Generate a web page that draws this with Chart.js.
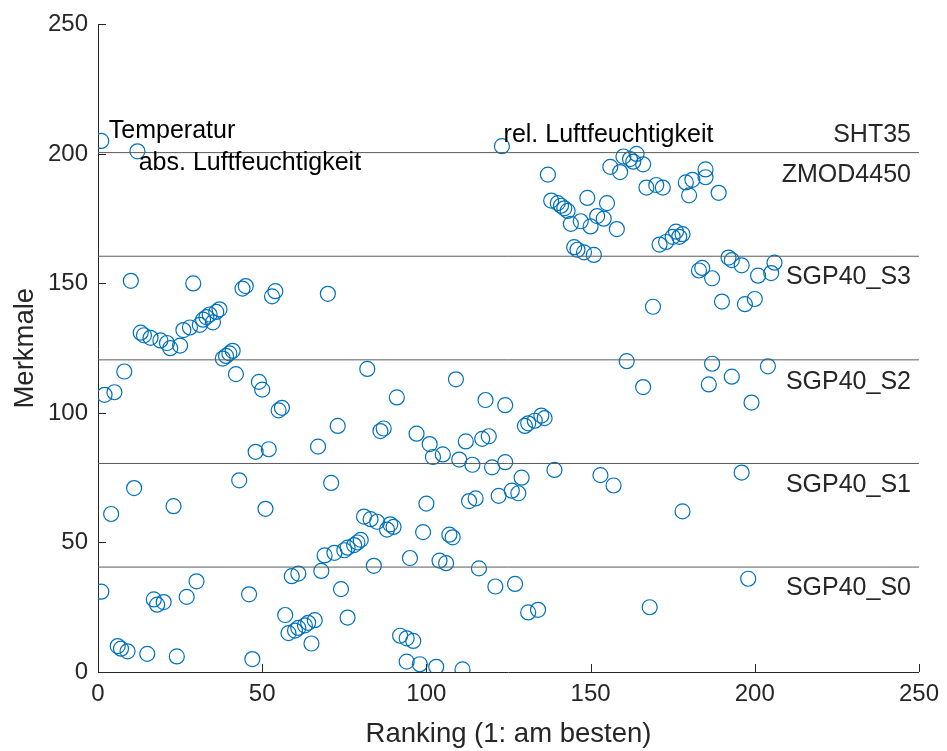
<!DOCTYPE html>
<html>
<head>
<meta charset="utf-8">
<script src="https://cdn.jsdelivr.net/npm/chart.js@4.4.1/dist/chart.umd.min.js"></script>
<style>
  body { margin: 0; background: #fff; }
</style>
</head>
<body>
<canvas id="myChart" width="947" height="751"></canvas>
<script>
// ranking (x) and feature index (y), grouped by sensor
const shtRank = [1, 12, 123];
const shtFeat = [205, 201, 203];

const zmodRank = [137, 156, 159, 160, 162, 163, 164, 166, 138, 140, 141, 142, 143, 144, 147, 149, 150, 152, 154, 155, 158,
  145, 146, 148, 151, 167, 170, 172, 171, 173, 175, 176, 177, 178, 179, 181, 180, 185, 185, 189];
const zmodFeat = [192, 195, 193, 199, 198, 197, 200, 196, 182, 181, 180, 179, 178, 173, 174, 183, 172, 176, 175, 181, 171,
  164, 163, 162, 161, 187, 188, 187, 165, 166, 168, 170, 168, 169, 189, 190, 184, 194, 191, 185];

const s3Rank = [183, 184, 187, 192, 193, 196, 201, 205, 206, 190, 197, 200, 169, 10, 29, 44, 45, 53, 54, 70,
  13, 14, 16, 19, 21, 22, 25, 26, 28, 31, 32, 33, 34, 35, 36, 37, 38, 39, 40, 41];
const s3Feat = [155, 156, 152, 160, 159, 157, 153, 154, 158, 143, 142, 144, 141, 151, 150, 148, 149, 145, 147, 146,
  131, 130, 129, 128, 127, 125, 126, 132, 133, 134, 136, 137, 138, 135, 139, 140, 121, 122, 123, 124];

const s2Rank = [42, 8, 2, 5, 49, 50, 55, 56, 48, 52, 82, 109, 118, 124, 91, 73, 67, 86, 87, 97, 101, 102, 105, 110,
  112, 117, 119, 161, 187, 186, 166, 130, 131, 133, 135, 136, 204, 193, 199, 124];
const s2Feat = [115, 116, 107, 108, 112, 109, 101, 102, 85, 86, 117, 113, 105, 103, 106, 95, 87, 93, 94, 92, 88, 83, 84, 82,
  89, 90, 91, 120, 119, 111, 110, 95, 96, 97, 99, 98, 118, 114, 104, 81];

const s1Rank = [114, 120, 43, 11, 71, 139, 153, 157, 129, 126, 128, 196, 4, 23, 51, 100, 113, 115, 122,
  81, 83, 85, 89, 90, 88, 99, 107, 108, 69, 72, 75, 76, 78, 79, 80, 178];
const s1Feat = [80, 79, 74, 71, 73, 78, 76, 72, 75, 70, 69, 77, 61, 64, 63, 65, 66, 67, 68,
  60, 59, 58, 57, 56, 55, 54, 53, 52, 45, 46, 47, 48, 49, 50, 51, 62];

const s0Rank = [84, 95, 104, 106, 116, 121, 68, 61, 59, 74, 76, 65, 66, 64, 63, 61, 60, 58, 57, 92, 94, 96, 94, 98, 103, 111,
  1, 17, 18, 20, 27, 30, 46, 6, 7, 9, 15, 24, 47, 127, 131, 134, 168, 198];
const s0Feat = [41, 44, 43, 42, 40, 33, 39, 38, 37, 32, 21, 11, 20, 19, 18, 17, 16, 15, 22, 14, 13, 12, 4, 3, 2, 1,
  31, 28, 26, 27, 29, 35, 30, 10, 9, 8, 7, 6, 5, 34, 23, 24, 25, 36];

// sensor boundaries and labels
const boundaries = [40.5, 80.5, 120.5, 160.5, 200.5];
const sensorNames = ["SGP40_S0", "SGP40_S1", "SGP40_S2", "SGP40_S3", "ZMOD4450", "SHT35"];
const sensorLabelY = [32.3, 72.2, 112, 152.5, 192, 207.4];
const featureNames = ["Temperatur", "abs. Luftfeuchtigkeit", "rel. Luftfeuchtigkeit"];
const featureLabelX = [3.3, 12.4, 123.5];
const featureLabelY = [208.9, 196.6, 207.4];
const tickValues = [0, 50, 100, 150, 200, 250];

const allRank = [].concat(shtRank, zmodRank, s3Rank, s2Rank, s1Rank, s0Rank);
const allFeat = [].concat(shtFeat, zmodFeat, s3Feat, s2Feat, s1Feat, s0Feat);
const points = allRank.map((r, i) => ({ x: r, y: allFeat[i] }));

const lineSets = boundaries.map((b) => ({
  type: "line",
  data: [{ x: 0, y: b }, { x: 250, y: b }],
  borderColor: "#5a5a5a",
  borderWidth: 1,
  pointRadius: 0,
  fill: false,
}));

const overlay = {
  id: "overlay",
  afterDatasetsDraw(chart) {
    const { ctx, chartArea } = chart;
    const x = chart.scales.x;
    const y = chart.scales.y;
    ctx.save();
    // inward ticks like matlab
    ctx.strokeStyle = "#262626";
    ctx.lineWidth = 1;
    tickValues.forEach((v) => {
      const px = Math.round(x.getPixelForValue(v)) + 0.5;
      ctx.beginPath();
      ctx.moveTo(px, chartArea.bottom);
      ctx.lineTo(px, chartArea.bottom - 8);
      ctx.stroke();
      const py = Math.round(y.getPixelForValue(v)) + 0.5;
      ctx.beginPath();
      ctx.moveTo(chartArea.left, py);
      ctx.lineTo(chartArea.left + 8, py);
      ctx.stroke();
    });
    // text labels
    ctx.font = '25px "Liberation Sans", Arial, sans-serif';
    ctx.textBaseline = "middle";
    ctx.fillStyle = "#262626";
    ctx.textAlign = "right";
    sensorNames.forEach((name, i) => {
      ctx.fillText(name, chartArea.right - 8, y.getPixelForValue(sensorLabelY[i]));
    });
    ctx.fillStyle = "#000";
    ctx.textAlign = "left";
    featureNames.forEach((name, i) => {
      ctx.fillText(name, x.getPixelForValue(featureLabelX[i]), y.getPixelForValue(featureLabelY[i]));
    });
    ctx.restore();
  },
};

const ctx = document.getElementById("myChart");
new Chart(ctx, {
  type: "scatter",
  data: {
    datasets: [
      ...lineSets,
      {
        label: "Merkmale",
        data: points,
        pointStyle: "circle",
        pointRadius: 7.5,
        pointHoverRadius: 7.5,
        borderWidth: 1.2,
        borderColor: "#0072BD",
        backgroundColor: "rgba(0,0,0,0)",
      },
    ],
  },
  options: {
    responsive: false,
    animation: false,
    events: [],
    layout: { padding: { top: 21, right: 25, left: 0, bottom: 0 } },
    plugins: { legend: { display: false }, tooltip: { enabled: false } },
    scales: {
      x: {
        type: "linear",
        min: 0,
        max: 250,
        afterFit: (scale) => { scale.height = 79; },
        ticks: { stepSize: 50, padding: 8, color: "#262626", font: { size: 24, family: '"Liberation Sans", Arial' } },
        grid: { display: false, drawTicks: false },
        border: { display: true, color: "#262626", width: 1 },
        title: {
          display: true,
          text: "Ranking (1: am besten)",
          color: "#262626",
          font: { size: 27.5, family: '"Liberation Sans", Arial' },
          padding: { top: -7, bottom: 0 },
        },
      },
      y: {
        type: "linear",
        min: 0,
        max: 250,
        afterFit: (scale) => { scale.width = 98; },
        ticks: { stepSize: 50, padding: 10, color: "#262626", font: { size: 24, family: '"Liberation Sans", Arial' } },
        grid: { display: false, drawTicks: false },
        border: { display: true, color: "#262626", width: 1 },
        title: {
          display: true,
          text: "Merkmale",
          color: "#262626",
          font: { size: 27.5, family: '"Liberation Sans", Arial' },
          padding: { top: 9, bottom: 0 },
        },
      },
    },
  },
  plugins: [overlay],
});
</script>
</body>
</html>
